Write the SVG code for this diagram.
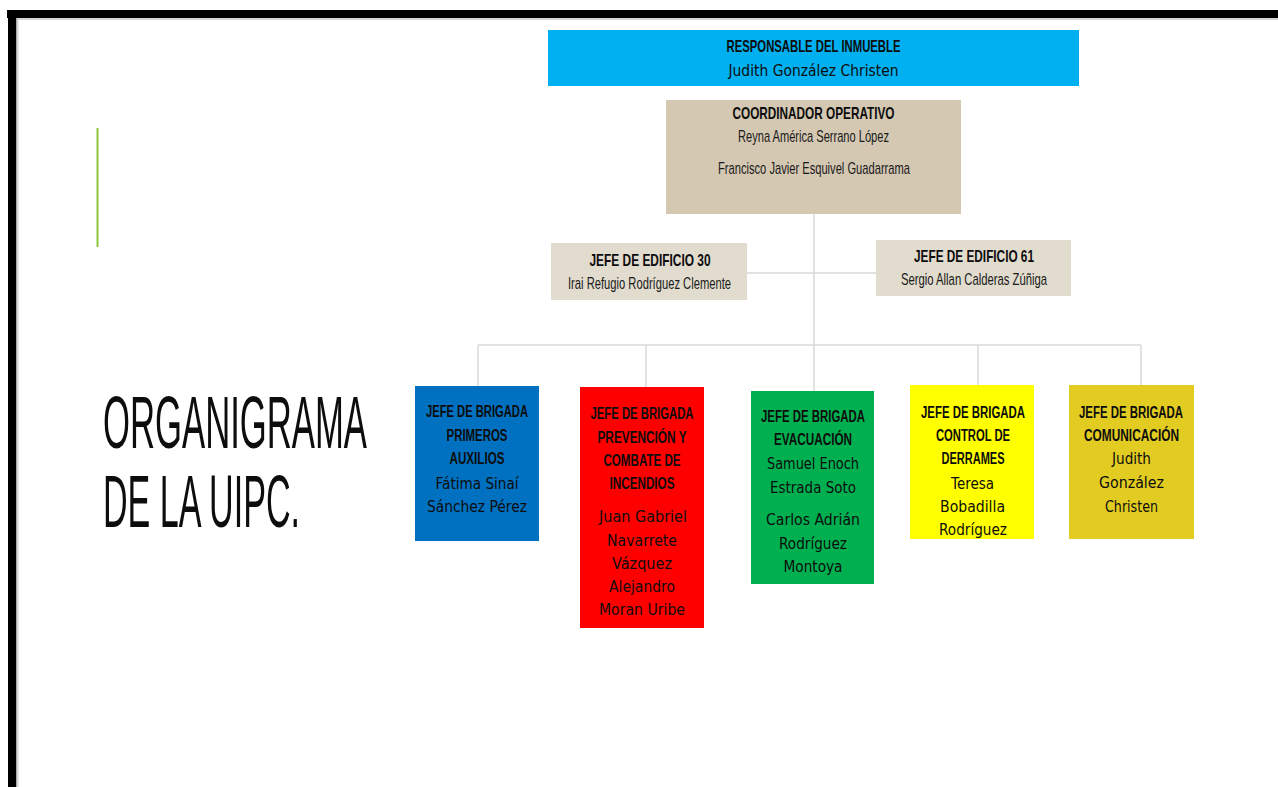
<svg xmlns="http://www.w3.org/2000/svg" width="1278" height="787" viewBox="0 0 1278 787">
<style>
.h{font-family:"Liberation Sans",Arial,sans-serif;font-weight:bold;font-size:16px;fill:#0d0d0d;text-anchor:middle}
.H{font-family:"Liberation Sans",Arial,sans-serif;font-weight:bold;font-size:17px;fill:#0d0d0d;text-anchor:middle}
.n{font-family:"DejaVu Sans","Liberation Sans",sans-serif;font-size:15.5px;fill:#0d0d0d;text-anchor:middle}
.c{font-family:"Liberation Sans",Arial,sans-serif;font-size:17px;fill:#1a1a1a;text-anchor:middle}
.t{font-family:"Liberation Sans",Arial,sans-serif;font-size:74px;fill:#0d0d0d}
.ln{stroke:#d9d9d9;stroke-width:1.5;fill:none}
</style>
<rect x="0" y="0" width="1278" height="787" fill="#ffffff"/>
<!-- frame -->
<rect x="7" y="10" width="1271" height="8" fill="#000"/>
<rect x="16" y="18" width="1262" height="2" fill="#d4d4d4"/>
<rect x="8" y="10" width="8.5" height="777" fill="#000"/>
<rect x="16.5" y="18" width="2" height="769" fill="#d4d4d4"/>
<line x1="97.5" y1="128" x2="97.5" y2="247" stroke="#8cc63f" stroke-width="2"/>
<!-- title -->
<text class="t" x="103" y="448" textLength="264" lengthAdjust="spacingAndGlyphs">ORGANIGRAMA</text>
<text class="t" x="103" y="527" textLength="197" lengthAdjust="spacingAndGlyphs">DE LA UIPC.</text>
<!-- connectors -->
<g id="connectors">
<line class="ln" x1="814" y1="214" x2="814" y2="391"/>
<line class="ln" x1="747" y1="273" x2="876" y2="273"/>
<line class="ln" x1="478" y1="345" x2="1141" y2="345"/>
<line class="ln" x1="478" y1="345" x2="478" y2="386"/>
<line class="ln" x1="646" y1="345" x2="646" y2="387"/>
<line class="ln" x1="978" y1="345" x2="978" y2="385"/>
<line class="ln" x1="1141" y1="345" x2="1141" y2="385"/>
</g>
<g id="responsable">
<rect x="548" y="30" width="531" height="56" fill="#00b0f0"/>
<text class="H" x="813.5" y="52" textLength="174" lengthAdjust="spacingAndGlyphs">RESPONSABLE DEL INMUEBLE</text>
<text class="n" x="813.5" y="76" font-size="16.5" textLength="170" lengthAdjust="spacingAndGlyphs">Judith González Christen</text>
</g>
<g id="coordinador">
<rect x="666" y="100" width="295" height="114" fill="#d4c8b2"/>
<text class="H" x="813.5" y="119" textLength="162" lengthAdjust="spacingAndGlyphs">COORDINADOR OPERATIVO</text>
<text class="c" x="813.5" y="142" textLength="151" lengthAdjust="spacingAndGlyphs">Reyna América Serrano López</text>
<text class="c" x="814" y="174" textLength="192" lengthAdjust="spacingAndGlyphs">Francisco Javier Esquivel Guadarrama</text>
</g>
<g id="edificio30">
<rect x="551" y="243" width="196" height="57" fill="#e1dccd"/>
<text class="H" x="650" y="266" textLength="121" lengthAdjust="spacingAndGlyphs">JEFE DE EDIFICIO 30</text>
<text class="c" x="649.5" y="289" textLength="163" lengthAdjust="spacingAndGlyphs">Irai Refugio Rodríguez Clemente</text>
</g>
<g id="edificio61">
<rect x="876" y="240" width="195" height="56" fill="#e1dccd"/>
<text class="H" x="974" y="262" textLength="120" lengthAdjust="spacingAndGlyphs">JEFE DE EDIFICIO 61</text>
<text class="c" x="974" y="285" textLength="146" lengthAdjust="spacingAndGlyphs">Sergio Allan Calderas Zúñiga</text>
</g>
<g id="primeros-auxilios">
<rect x="415" y="386" width="124" height="155" fill="#0070c0"/>
<text class="h" x="477" y="417" textLength="102" lengthAdjust="spacingAndGlyphs">JEFE DE BRIGADA</text>
<text class="h" x="477" y="441" textLength="61" lengthAdjust="spacingAndGlyphs">PRIMEROS</text>
<text class="h" x="477" y="464" textLength="55" lengthAdjust="spacingAndGlyphs">AUXILIOS</text>
<text class="n" x="477" y="489" textLength="83" lengthAdjust="spacingAndGlyphs">Fátima Sinaí</text>
<text class="n" x="477" y="512" textLength="100" lengthAdjust="spacingAndGlyphs">Sánchez Pérez</text>
</g>
<g id="incendios">
<rect x="580" y="387" width="124" height="241" fill="#ff0000"/>
<text class="h" x="642" y="419" textLength="103" lengthAdjust="spacingAndGlyphs">JEFE DE BRIGADA</text>
<text class="h" x="642" y="443" textLength="89" lengthAdjust="spacingAndGlyphs">PREVENCIÓN Y</text>
<text class="h" x="642" y="466" textLength="77" lengthAdjust="spacingAndGlyphs">COMBATE DE</text>
<text class="h" x="642" y="489" textLength="65" lengthAdjust="spacingAndGlyphs">INCENDIOS</text>
<text class="n" x="643" y="522" textLength="88" lengthAdjust="spacingAndGlyphs">Juan Gabriel</text>
<text class="n" x="642" y="546" textLength="70" lengthAdjust="spacingAndGlyphs">Navarrete</text>
<text class="n" x="642" y="569" textLength="60" lengthAdjust="spacingAndGlyphs">Vázquez</text>
<text class="n" x="642" y="592" textLength="66" lengthAdjust="spacingAndGlyphs">Alejandro</text>
<text class="n" x="642" y="615" textLength="86" lengthAdjust="spacingAndGlyphs">Moran Uribe</text>
</g>
<g id="evacuacion">
<rect x="751" y="391" width="123" height="193" fill="#00b050"/>
<text class="h" x="813" y="422" textLength="104" lengthAdjust="spacingAndGlyphs">JEFE DE BRIGADA</text>
<text class="h" x="813" y="445" textLength="78" lengthAdjust="spacingAndGlyphs">EVACUACIÓN</text>
<text class="n" x="813" y="469" textLength="92" lengthAdjust="spacingAndGlyphs">Samuel Enoch</text>
<text class="n" x="813" y="493" textLength="86" lengthAdjust="spacingAndGlyphs">Estrada Soto</text>
<text class="n" x="813" y="525" textLength="94" lengthAdjust="spacingAndGlyphs">Carlos Adrián</text>
<text class="n" x="813" y="549" textLength="68" lengthAdjust="spacingAndGlyphs">Rodríguez</text>
<text class="n" x="813" y="572" textLength="59" lengthAdjust="spacingAndGlyphs">Montoya</text>
</g>
<g id="derrames">
<rect x="910" y="385" width="124" height="154" fill="#ffff00"/>
<text class="h" x="973" y="418" textLength="104" lengthAdjust="spacingAndGlyphs">JEFE DE BRIGADA</text>
<text class="h" x="973" y="441" textLength="74" lengthAdjust="spacingAndGlyphs">CONTROL DE</text>
<text class="h" x="973" y="464" textLength="63" lengthAdjust="spacingAndGlyphs">DERRAMES</text>
<text class="n" x="972.5" y="489" textLength="43" lengthAdjust="spacingAndGlyphs">Teresa</text>
<text class="n" x="972.5" y="512" textLength="65" lengthAdjust="spacingAndGlyphs">Bobadilla</text>
<text class="n" x="973" y="535" textLength="68" lengthAdjust="spacingAndGlyphs">Rodríguez</text>
</g>
<g id="comunicacion">
<rect x="1069" y="385" width="125" height="154" fill="#e3cc22"/>
<text class="h" x="1131" y="418" textLength="104" lengthAdjust="spacingAndGlyphs">JEFE DE BRIGADA</text>
<text class="h" x="1131.5" y="441" textLength="95" lengthAdjust="spacingAndGlyphs">COMUNICACIÓN</text>
<text class="n" x="1131.5" y="464" textLength="39" lengthAdjust="spacingAndGlyphs">Judith</text>
<text class="n" x="1131.5" y="488" textLength="65" lengthAdjust="spacingAndGlyphs">González</text>
<text class="n" x="1131.5" y="512" textLength="53" lengthAdjust="spacingAndGlyphs">Christen</text>
</g>
</svg>
